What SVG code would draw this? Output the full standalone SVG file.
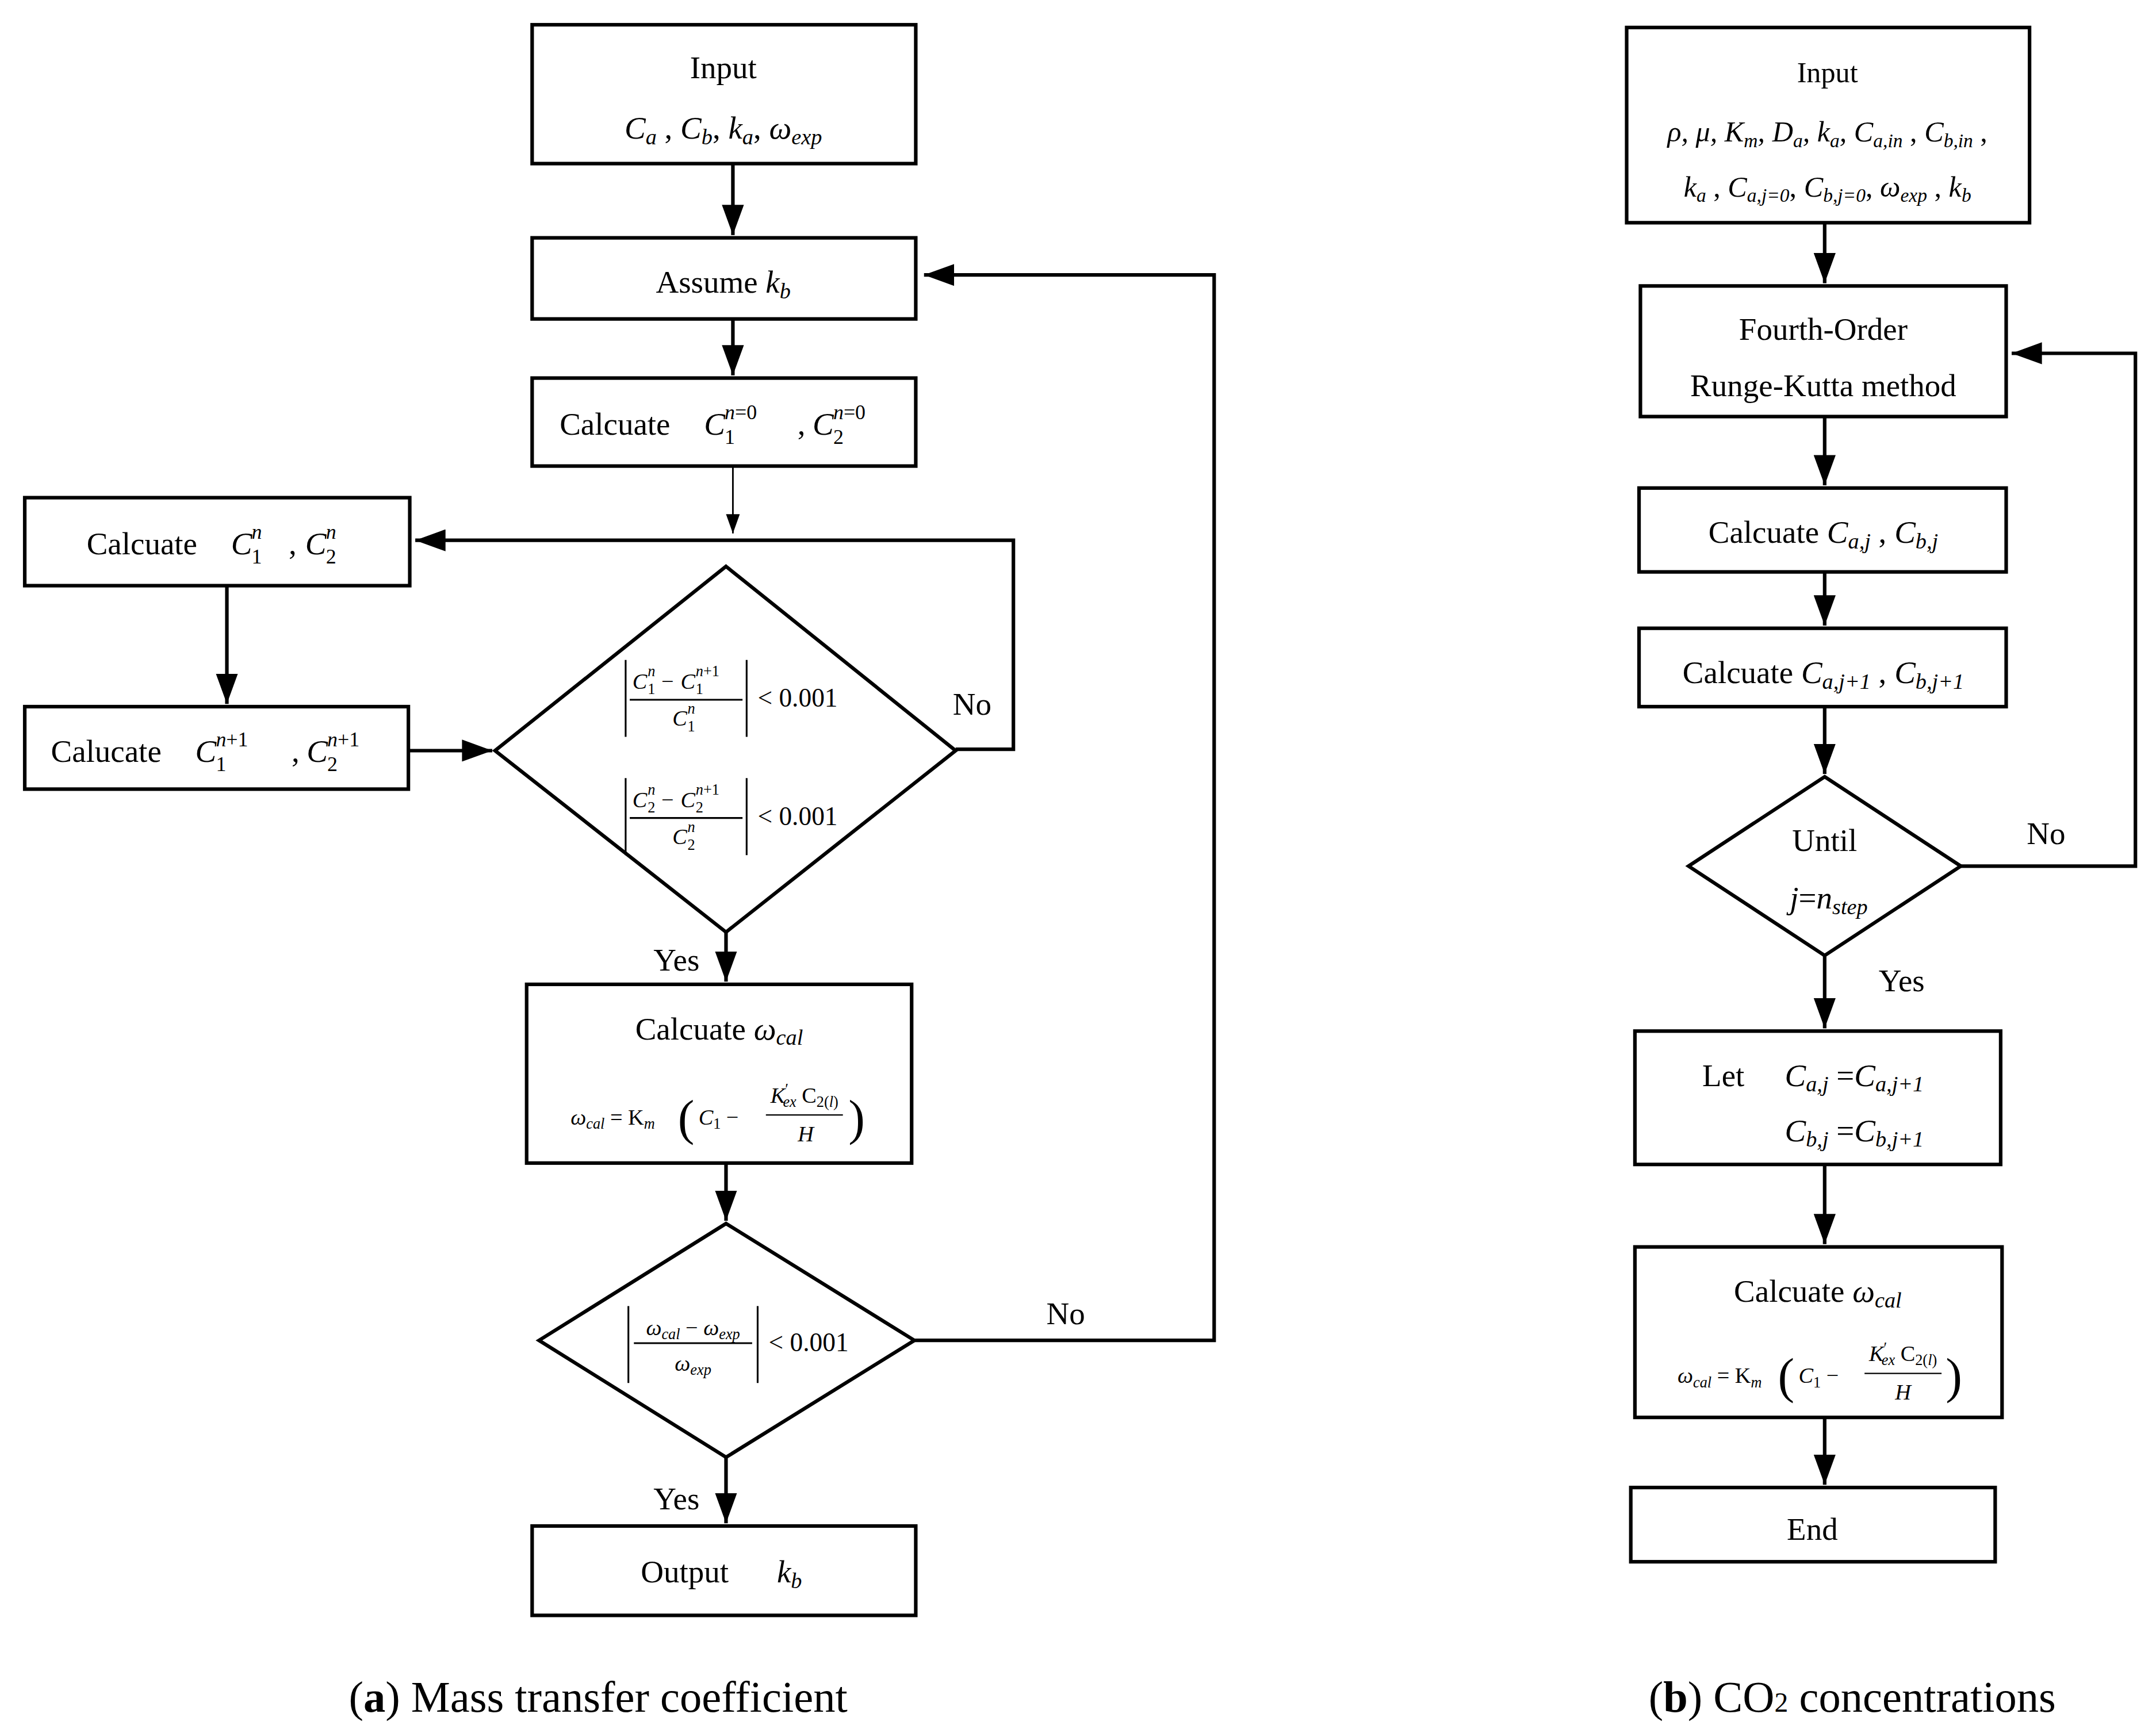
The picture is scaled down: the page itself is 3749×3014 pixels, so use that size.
<svg xmlns="http://www.w3.org/2000/svg" width="3749" height="3014" viewBox="0 0 3749 3014">
<style>
.b{fill:none;stroke:#000;stroke-width:2.6}
.l{fill:none;stroke:#000;stroke-width:2.6}
text{font-family:"Liberation Serif",serif;fill:#000}
.t{font-size:23px;text-anchor:middle}
.s{font-size:23px}
.m{font-size:16px}
.x{font-size:11px;font-style:italic}
.y{font-size:15px}
.i{font-style:italic}
.c{font-size:32px;text-anchor:middle}
</style>
<defs>
<marker id="a" markerUnits="userSpaceOnUse" markerWidth="22" markerHeight="16" viewBox="0 0 22 16" refX="22" refY="8" orient="auto"><path d="M0,0L22,8L0,16z" fill="#000"/></marker>
<marker id="s" markerUnits="userSpaceOnUse" markerWidth="14" markerHeight="10" viewBox="0 0 14 10" refX="14" refY="5" orient="auto"><path d="M0,0L14,5L0,10z" fill="#000"/></marker>
</defs>
<rect width="3749" height="3014" fill="#fff"/>
<g transform="scale(2.391)">
<g id="connectors">
<path class="l" d="M533,119V171" marker-end="url(#a)"/>
<path class="l" d="M533,232V273" marker-end="url(#a)"/>
<path d="M533,339V388" stroke="#000" stroke-width="1.2" marker-end="url(#s)"/>
<path class="l" d="M695,545H737V393H302" marker-end="url(#a)"/>
<path class="l" d="M165,426V512" marker-end="url(#a)"/>
<path class="l" d="M297,546H358" marker-end="url(#a)"/>
<path class="l" d="M528,678V714" marker-end="url(#a)"/>
<path class="l" d="M528,846V888" marker-end="url(#a)"/>
<path class="l" d="M665,975H883V200H672" marker-end="url(#a)"/>
<path class="l" d="M528,1060V1108" marker-end="url(#a)"/>
<path class="l" d="M1327,162V206" marker-end="url(#a)"/>
<path class="l" d="M1327,303V353" marker-end="url(#a)"/>
<path class="l" d="M1327,416V455" marker-end="url(#a)"/>
<path class="l" d="M1327,514V563" marker-end="url(#a)"/>
<path class="l" d="M1426,630H1553V257H1463" marker-end="url(#a)"/>
<path class="l" d="M1327,695V748" marker-end="url(#a)"/>
<path class="l" d="M1327,847V905" marker-end="url(#a)"/>
<path class="l" d="M1327,1031V1080" marker-end="url(#a)"/>
<text class="t" x="707" y="520">No</text>
<text class="t" x="492" y="706">Yes</text>
<text class="t" x="775" y="963">No</text>
<text class="t" x="492" y="1098">Yes</text>
<text class="t" x="1488" y="614">No</text>
<text class="t" x="1383" y="721">Yes</text>
</g>
<g id="inputA"><rect class="b" x="387" y="18" width="279" height="101"/>
<text class="t" x="526" y="57">Input</text>
<text class="t" x="526" y="101"><tspan class="i">C</tspan><tspan class="i" font-size="16" dy="4">a</tspan><tspan dy="-4"> , </tspan><tspan class="i">C</tspan><tspan class="i" font-size="16" dy="4">b</tspan><tspan dy="-4">, </tspan><tspan class="i">k</tspan><tspan class="i" font-size="16" dy="4">a</tspan><tspan dy="-4">, </tspan><tspan class="i">ω</tspan><tspan class="i" font-size="16" dy="4">exp</tspan></text></g>
<g id="assume"><rect class="b" x="387" y="173" width="279" height="59"/>
<text class="t" x="526" y="213">Assume <tspan class="i">k</tspan><tspan class="i" font-size="16" dy="4">b</tspan></text></g>
<g id="calc0"><rect class="b" x="387" y="275" width="279" height="64"/>
<text class="s" x="407" y="316">Calcuate</text>
<text class="s i" x="512" y="316">C</text><text class="y" x="527" y="305"><tspan class="i">n</tspan>=0</text><text class="y" x="527" y="323">1</text>
<text class="s" x="580" y="316">,</text>
<text class="s i" x="591" y="316">C</text><text class="y" x="606" y="305"><tspan class="i">n</tspan>=0</text><text class="y" x="606" y="323">2</text></g>
<g id="calcn"><rect class="b" x="18" y="362" width="280" height="64"/>
<text class="s" x="63" y="403">Calcuate</text>
<text class="s i" x="168" y="403">C</text><text class="y i" x="183" y="392">n</text><text class="y" x="183" y="410">1</text>
<text class="s" x="210" y="403">,</text>
<text class="s i" x="222" y="403">C</text><text class="y i" x="237" y="392">n</text><text class="y" x="237" y="410">2</text></g>
<g id="calcn1"><rect class="b" x="18" y="514" width="279" height="60"/>
<text class="s" x="37" y="554">Calucate</text>
<text class="s i" x="142" y="554">C</text><text class="y" x="157" y="543"><tspan class="i">n</tspan>+1</text><text class="y" x="157" y="561">1</text>
<text class="s" x="212" y="554">,</text>
<text class="s i" x="223" y="554">C</text><text class="y" x="238" y="543"><tspan class="i">n</tspan>+1</text><text class="y" x="238" y="561">2</text></g>
<g id="diam1"><path class="b" d="M528,412L695,546L528,678L360,546Z"/>
<path d="M455,480V536M543,480V536M458,509H540M455,566V622M543,566V622M458,595H540" stroke="#000" stroke-width="1.3"/>
<text class="m i" x="460" y="501">C</text><text class="x" x="471" y="492">n</text><text class="x" x="471" y="505" style="font-style:normal">1</text>
<text class="m" x="481" y="501">−</text>
<text class="m i" x="495" y="501">C</text><text class="x" x="506" y="492"><tspan class="i">n</tspan><tspan style="font-style:normal">+1</tspan></text><text class="x" x="506" y="505" style="font-style:normal">1</text>
<text class="m i" x="489" y="528">C</text><text class="x" x="500" y="519">n</text><text class="x" x="500" y="532" style="font-style:normal">1</text>
<text x="551" y="514" style="font-size:19px">&lt; 0.001</text>
<text class="m i" x="460" y="587">C</text><text class="x" x="471" y="578">n</text><text class="x" x="471" y="591" style="font-style:normal">2</text>
<text class="m" x="481" y="587">−</text>
<text class="m i" x="495" y="587">C</text><text class="x" x="506" y="578"><tspan class="i">n</tspan><tspan style="font-style:normal">+1</tspan></text><text class="x" x="506" y="591" style="font-style:normal">2</text>
<text class="m i" x="489" y="614">C</text><text class="x" x="500" y="605">n</text><text class="x" x="500" y="618" style="font-style:normal">2</text>
<text x="551" y="600" style="font-size:19px">&lt; 0.001</text></g>
<g id="wcalA"><rect class="b" x="383" y="716" width="280" height="130"/>
<text class="t" x="523" y="756">Calcuate <tspan class="i">ω</tspan><tspan class="i" font-size="16" dy="4">cal</tspan></text>
<text class="m" x="415" y="818"><tspan class="i">ω</tspan><tspan class="i" font-size="11" dy="3">cal</tspan><tspan dy="-3"> = K</tspan><tspan class="i" font-size="11" dy="3">m</tspan></text>
<text x="493" y="825" style="font-size:36px">(</text>
<text class="m" x="508" y="818"><tspan class="i">C</tspan><tspan font-size="11" dy="3">1</tspan><tspan dy="-3"> −</tspan></text>
<text class="m" x="585" y="802" text-anchor="middle"><tspan class="i">K</tspan><tspan font-size="11" dy="-6">′</tspan><tspan class="i" font-size="11" dx="-4" dy="9">ex</tspan><tspan dy="-3"> C</tspan><tspan font-size="11" dy="3">2(<tspan class="i">l</tspan>)</tspan></text>
<path d="M557,811H613" stroke="#000" stroke-width="1"/>
<text class="m i" x="586" y="830" text-anchor="middle">H</text>
<text x="617" y="825" style="font-size:36px">)</text></g>
<g id="diam2"><path class="b" d="M528,890L665,975L528,1060L392,975Z"/>
<path d="M457,950V1006M551,950V1006M461,977H547" stroke="#000" stroke-width="1.3"/>
<text class="m" x="504" y="971" text-anchor="middle"><tspan class="i">ω</tspan><tspan class="i" font-size="11" dy="3">cal</tspan><tspan dy="-3"> − </tspan><tspan class="i">ω</tspan><tspan class="i" font-size="11" dy="3">exp</tspan></text>
<text class="m" x="504" y="997" text-anchor="middle"><tspan class="i">ω</tspan><tspan class="i" font-size="11" dy="3">exp</tspan></text>
<text x="559" y="983" style="font-size:19px">&lt; 0.001</text></g>
<g id="outputA"><rect class="b" x="387" y="1110" width="279" height="65"/>
<text class="s" x="466" y="1151">Output</text><text class="s i" x="565" y="1151">k<tspan font-size="16" dy="4">b</tspan></text></g>
<text class="c" x="435" y="1245">(<tspan font-weight="bold">a</tspan>) Mass transfer coefficient</text>

<g id="inputB"><rect class="b" x="1183" y="20" width="293" height="142"/>
<text class="t" x="1329" y="60" style="font-size:21px">Input</text>
<text class="t" x="1329" y="103" style="font-size:21px"><tspan class="i">ρ, μ, K</tspan><tspan class="i" font-size="14" dy="4">m</tspan><tspan class="i" dy="-4">, D</tspan><tspan class="i" font-size="14" dy="4">a</tspan><tspan class="i" dy="-4">, k</tspan><tspan class="i" font-size="14" dy="4">a</tspan><tspan class="i" dy="-4">, C</tspan><tspan class="i" font-size="14" dy="4">a,in</tspan><tspan dy="-4"> , </tspan><tspan class="i">C</tspan><tspan class="i" font-size="14" dy="4">b,in</tspan><tspan dy="-4"> ,</tspan></text>
<text class="t" x="1329" y="143" style="font-size:21px"><tspan class="i">k</tspan><tspan class="i" font-size="14" dy="4">a</tspan><tspan dy="-4"> , </tspan><tspan class="i">C</tspan><tspan class="i" font-size="14" dy="4">a,j=0</tspan><tspan dy="-4">, </tspan><tspan class="i">C</tspan><tspan class="i" font-size="14" dy="4">b,j=0</tspan><tspan dy="-4">, </tspan><tspan class="i">ω</tspan><tspan class="i" font-size="14" dy="4">exp</tspan><tspan dy="-4"> , </tspan><tspan class="i">k</tspan><tspan class="i" font-size="14" dy="4">b</tspan></text></g>
<g id="rk"><rect class="b" x="1193" y="208" width="266" height="95"/>
<text class="t" x="1326" y="247">Fourth-Order</text>
<text class="t" x="1326" y="288">Runge-Kutta method</text></g>
<g id="calcj"><rect class="b" x="1192" y="355" width="267" height="61"/>
<text class="t" x="1326" y="395">Calcuate <tspan class="i">C</tspan><tspan class="i" font-size="16" dy="4">a,j</tspan><tspan dy="-4"> , </tspan><tspan class="i">C</tspan><tspan class="i" font-size="16" dy="4">b,j</tspan></text></g>
<g id="calcj1"><rect class="b" x="1192" y="457" width="267" height="57"/>
<text class="t" x="1326" y="497">Calcuate <tspan class="i">C</tspan><tspan class="i" font-size="16" dy="4">a,j+1</tspan><tspan dy="-4"> , </tspan><tspan class="i">C</tspan><tspan class="i" font-size="16" dy="4">b,j+1</tspan></text></g>
<g id="until"><path class="b" d="M1327,565L1426,630L1327,695L1228,630Z"/>
<text class="t" x="1327" y="619">Until</text>
<text class="t" x="1330" y="661"><tspan class="i">j</tspan>=<tspan class="i">n</tspan><tspan class="i" font-size="16" dy="4">step</tspan></text></g>
<g id="let"><rect class="b" x="1189" y="750" width="266" height="97"/>
<text class="s" x="1238" y="790">Let</text>
<text class="s" x="1298" y="790"><tspan class="i">C</tspan><tspan class="i" font-size="16" dy="4">a,j</tspan><tspan dy="-4"> =</tspan><tspan class="i">C</tspan><tspan class="i" font-size="16" dy="4">a,j+1</tspan></text>
<text class="s" x="1298" y="830"><tspan class="i">C</tspan><tspan class="i" font-size="16" dy="4">b,j</tspan><tspan dy="-4"> =</tspan><tspan class="i">C</tspan><tspan class="i" font-size="16" dy="4">b,j+1</tspan></text></g>
<g id="wcalB"><rect class="b" x="1189" y="907" width="267" height="124"/>
<text class="t" x="1322" y="947">Calcuate <tspan class="i">ω</tspan><tspan class="i" font-size="16" dy="4">cal</tspan></text>
<text class="m" x="1220" y="1006"><tspan class="i">ω</tspan><tspan class="i" font-size="11" dy="3">cal</tspan><tspan dy="-3"> = K</tspan><tspan class="i" font-size="11" dy="3">m</tspan></text>
<text x="1293" y="1013" style="font-size:36px">(</text>
<text class="m" x="1308" y="1006"><tspan class="i">C</tspan><tspan font-size="11" dy="3">1</tspan><tspan dy="-3"> −</tspan></text>
<text class="m" x="1384" y="990" text-anchor="middle"><tspan class="i">K</tspan><tspan font-size="11" dy="-6">′</tspan><tspan class="i" font-size="11" dx="-4" dy="9">ex</tspan><tspan dy="-3"> C</tspan><tspan font-size="11" dy="3">2(<tspan class="i">l</tspan>)</tspan></text>
<path d="M1356,999H1412" stroke="#000" stroke-width="1"/>
<text class="m i" x="1384" y="1018" text-anchor="middle">H</text>
<text x="1415" y="1013" style="font-size:36px">)</text></g>
<g id="end"><rect class="b" x="1186" y="1082" width="265" height="54"/>
<text class="t" x="1318" y="1120">End</text></g>
<text class="c" x="1347" y="1245">(<tspan font-weight="bold">b</tspan>) CO<tspan font-size="20">2</tspan> concentrations</text>
</g>
</svg>
